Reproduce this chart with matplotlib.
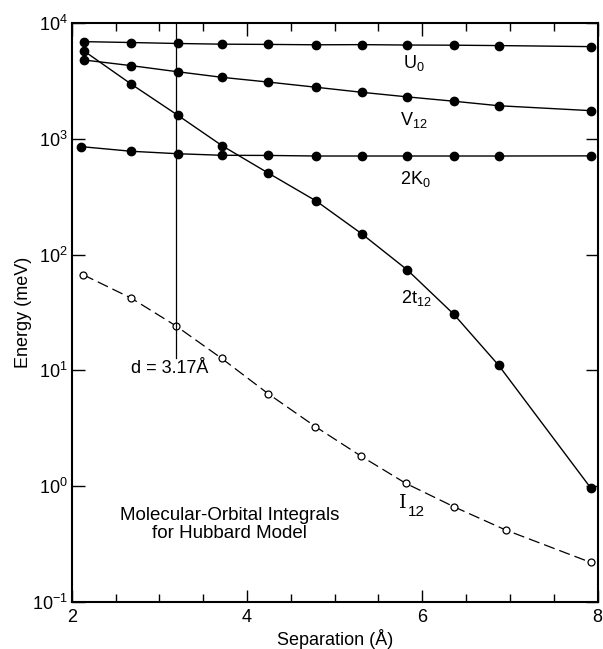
import matplotlib
matplotlib.use("Agg")
import matplotlib.pyplot as plt
from matplotlib.ticker import FixedLocator, NullLocator, MultipleLocator

plt.rcParams["font.family"] = ["Liberation Sans", "DejaVu Sans"]
plt.rcParams["mathtext.fontset"] = "custom"
plt.rcParams["mathtext.rm"] = "Liberation Sans"
plt.rcParams["mathtext.it"] = "Liberation Sans:italic"
plt.rcParams["mathtext.bf"] = "Liberation Sans:bold"

# separations (Angstrom)
sep = [2.14, 2.68, 3.21, 3.72, 4.24, 4.79, 5.31, 5.83, 6.36, 6.87, 7.92]
sep_k0 = [2.11, 2.68, 3.21, 3.72, 4.24, 4.79, 5.31, 5.83, 6.36, 6.87, 7.92]
sep_i12 = [2.13, 2.68, 3.19, 3.71, 4.24, 4.78, 5.30, 5.81, 6.36, 6.95, 7.92]

# energies (meV)
u0 = [6900, 6780, 6650, 6560, 6530, 6480, 6500, 6450, 6430, 6380, 6250]
v12 = [4790, 4280, 3790, 3390, 3090, 2785, 2520, 2300, 2110, 1930, 1750]
k0x2 = [855, 780, 743, 720, 718, 710, 710, 710, 710, 710, 712]
t12x2 = [5730, 2960, 1596, 867, 507, 290, 151, 73.6, 30.5, 11.1, 0.97]
i12 = [67, 42, 24.2, 12.7, 6.3, 3.27, 1.82, 1.06, 0.665, 0.419, 0.22]

d_line = 3.19
fs = 13

fig = plt.figure(figsize=(6.03, 6.49), dpi=100)
ax = fig.add_axes([0.119, 0.0724, 0.872, 0.8922])

filled = dict(color="black", lw=1.0, marker="o", ms=6, mfc="black", mec="black")
ax.plot(sep, u0, **filled)
ax.plot(sep, v12, **filled)
ax.plot(sep_k0, k0x2, **filled)
ax.plot(sep, t12x2, **filled)
ax.plot(sep_i12, i12, color="black", lw=0.9, dashes=(9, 4), marker="o", ms=5,
        mfc="white", mec="black", mew=0.9)

# d = 3.17 A marker line
ax.plot([d_line, d_line], [12.8, 1e4], color="black", lw=0.9)
ax.text(2.68, 10.3, "d = 3.17Å", fontsize=fs, ha="left", va="center")

ax.text(5.9, 4500, "U$_0$", fontsize=fs, ha="center", va="center")
ax.text(5.9, 1450, "V$_{12}$", fontsize=fs, ha="center", va="center")
ax.text(5.92, 450, "2K$_0$", fontsize=fs, ha="center", va="center")
ax.text(5.93, 42, "2t$_{12}$", fontsize=fs, ha="center", va="center")
ax.text(5.78, 0.72, "I", fontsize=fs + 1, family="DejaVu Serif", ha="center", va="center")
ax.text(5.84, 0.60, "12", fontsize=fs - 2, ha="left", va="center")
ax.text(3.8, 0.47, "Molecular-Orbital Integrals\nfor Hubbard Model", fontsize=fs + 0.5,
        ha="center", va="center", linespacing=1.05)

ax.set_yscale("log")
ax.set_xlim(2, 8)
ax.set_ylim(0.1, 1e4)
ax.xaxis.set_major_locator(FixedLocator([2, 4, 6, 8]))
ax.xaxis.set_minor_locator(MultipleLocator(0.5))
ax.yaxis.set_major_locator(FixedLocator([0.1, 1, 10, 100, 1000, 10000]))
ax.yaxis.set_minor_locator(NullLocator())

ax.tick_params(which="both", direction="in", top=True, right=True, labelsize=fs,
               width=1.0)
ax.tick_params(which="major", length=9)
ax.tick_params(which="minor", length=6)
ax.tick_params(axis="x", pad=5)
ax.tick_params(axis="y", pad=3)
for s in ax.spines.values():
    s.set_linewidth(1.5)

ax.set_xlabel("Separation (Å)", fontsize=fs, labelpad=2)
ax.set_ylabel("Energy (meV)", fontsize=fs, labelpad=0)

fig.savefig("out.png", dpi=100)
